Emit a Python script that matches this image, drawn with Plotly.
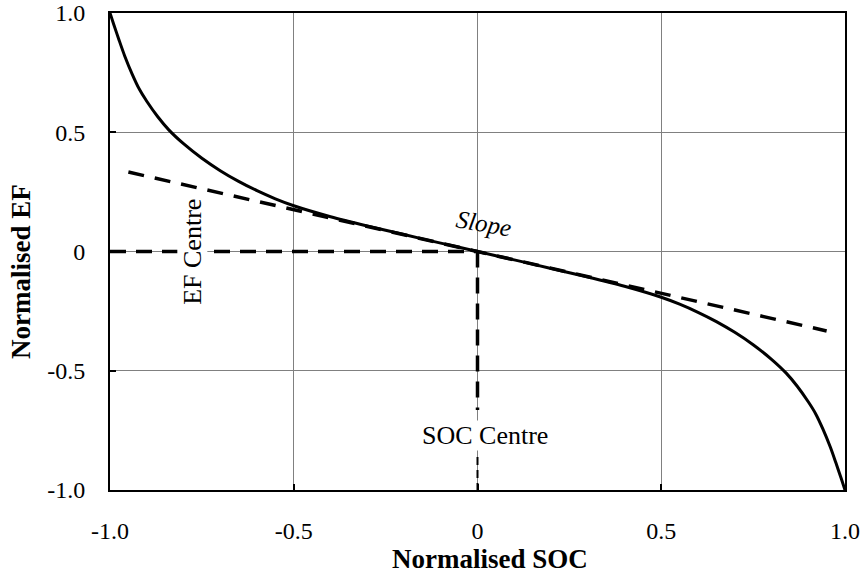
import plotly.graph_objects as go

# Characteristic curve
soc = [-1.0, -0.99, -0.975, -0.96, -0.94, -0.92, -0.90, -0.87, -0.84, -0.80, -0.75, -0.70,
       -0.65, -0.60, -0.55, -0.50, -0.40, -0.30, -0.20, -0.10, 0.0,
       0.10, 0.20, 0.30, 0.40, 0.50, 0.55, 0.60, 0.65, 0.70, 0.75, 0.80,
       0.84, 0.87, 0.90, 0.92, 0.94, 0.96, 0.975, 0.99, 1.0]
ef = [1.0, 0.953, 0.885, 0.82, 0.745, 0.68, 0.63, 0.565, 0.51, 0.452, 0.391, 0.339,
      0.294, 0.255, 0.221, 0.192, 0.146, 0.107, 0.071, 0.035, 0.0,
      -0.035, -0.071, -0.107, -0.146, -0.192, -0.221, -0.255, -0.294, -0.339, -0.391, -0.452,
      -0.51, -0.565, -0.63, -0.68, -0.745, -0.82, -0.885, -0.953, -1.0]

# Tangent (slope) line
slope_x = [-0.95, 0.95]
slope_y = [0.333, -0.333]

# Centre guide lines
ef_centre_x = [-1.0, 0.0]
ef_centre_y = [0.0, 0.0]
soc_centre_upper_x = [0.0, 0.0]
soc_centre_upper_y = [0.0, -0.665]
soc_centre_lower_x = [0.0, 0.0]
soc_centre_lower_y = [-0.862, -1.0]

tick_vals = [-1.0, -0.5, 0.0, 0.5, 1.0]
tick_text = ["-1.0", "-0.5", "0", "0.5", "1.0"]

FONT = "Liberation Serif, Times New Roman, serif"

fig = go.Figure()
fig.add_trace(go.Scatter(x=ef_centre_x, y=ef_centre_y, mode="lines",
                         line=dict(color="black", width=3.5, dash="16px,10px"), showlegend=False))
fig.add_trace(go.Scatter(x=soc_centre_upper_x, y=soc_centre_upper_y, mode="lines",
                         line=dict(color="black", width=3.5, dash="16px,10px"), showlegend=False))
fig.add_trace(go.Scatter(x=soc_centre_lower_x, y=soc_centre_lower_y, mode="lines",
                         line=dict(color="black", width=2, dash="8px,5px"), showlegend=False))
fig.add_trace(go.Scatter(x=slope_x, y=slope_y, mode="lines",
                         line=dict(color="black", width=3.5, dash="16px,11px"), showlegend=False))
fig.add_trace(go.Scatter(x=soc, y=ef, mode="lines",
                         line=dict(color="black", width=3, shape="spline", smoothing=0.8),
                         showlegend=False))

axis_common = dict(
    range=[-1, 1], tickvals=tick_vals, ticktext=tick_text,
    showgrid=True, gridcolor="#808080", gridwidth=1, zeroline=False,
    showline=True, linecolor="black", linewidth=2, mirror=True,
    ticks="inside", ticklen=6, tickwidth=2, tickcolor="black",
    tickfont=dict(family=FONT, size=24, color="black"),
    automargin=False,
)

fig.update_xaxes(**axis_common, ticklabelstandoff=18)
fig.update_yaxes(**axis_common, ticklabelstandoff=18)

# Axis titles
fig.add_annotation(xref="paper", yref="paper", x=(490 - 110) / 735, y=(490 - 559) / 477,
                   text="<b>Normalised SOC</b>", showarrow=False,
                   font=dict(family=FONT, size=27, color="black"),
                   xanchor="center", yanchor="middle")
fig.add_annotation(xref="paper", yref="paper", x=(21 - 110) / 735, y=(490 - 272) / 477,
                   text="<b>Normalised EF</b>", showarrow=False, textangle=-90,
                   font=dict(family=FONT, size=27, color="black"),
                   xanchor="center", yanchor="middle")

fig.add_annotation(x=-0.776, y=0.0, text="EF Centre", textangle=-90, showarrow=False,
                   font=dict(family=FONT, size=26, color="black"), bgcolor="white", borderpad=0,
                   xanchor="center", yanchor="middle")
fig.add_annotation(x=0.02, y=-0.771, text="SOC Centre", showarrow=False,
                   font=dict(family=FONT, size=26, color="black"), bgcolor="white", borderpad=0,
                   xanchor="center", yanchor="middle")
fig.add_annotation(x=0.018, y=0.117, text="<i>Slope</i>", textangle=10, showarrow=False,
                   font=dict(family=FONT, size=25, color="black"),
                   xanchor="center", yanchor="middle")

fig.update_layout(
    width=864, height=578,
    margin=dict(l=110, r=19, t=13, b=88),
    paper_bgcolor="white", plot_bgcolor="white",
    font=dict(family=FONT, color="black"),
)

fig.write_html("out.html", config={"displayModeBar": False},
               post_script="document.body.style.margin='0';document.body.style.overflow='hidden';")
